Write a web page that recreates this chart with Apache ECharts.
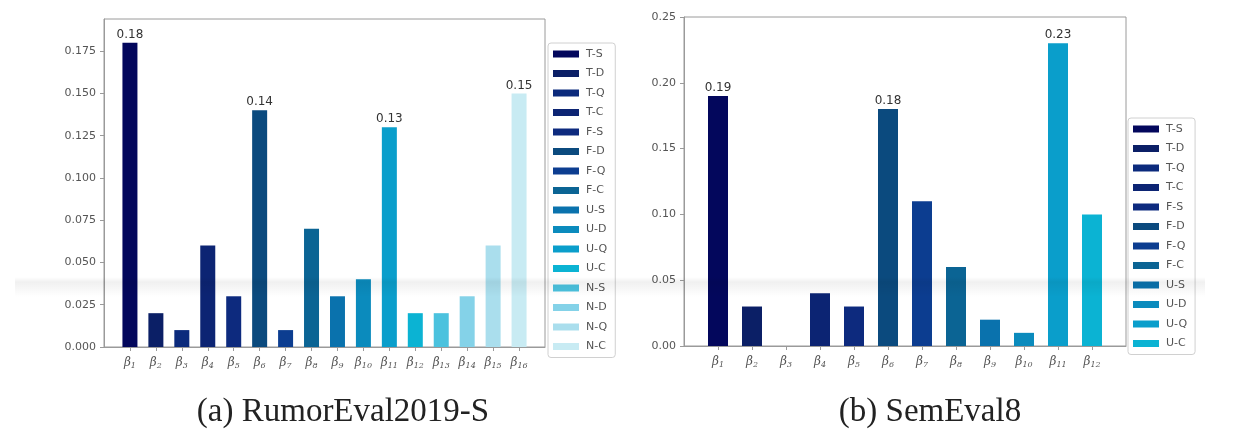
<!DOCTYPE html>
<html>
<head>
<meta charset="utf-8">
<script src="https://cdn.jsdelivr.net/npm/echarts@6/dist/echarts.min.js"></script>
<style>
html,body{margin:0;padding:0;background:#fff;}
#c{width:1236px;height:430px;}
</style>
</head>
<body>
<div id="c"></div>
<script>
// ---- data ----
const legendNames = ['T-S','T-D','T-Q','T-C','F-S','F-D','F-Q','F-C','U-S','U-D','U-Q','U-C','N-S','N-D','N-Q','N-C'];
const barColors = ['#03075c','#0b1f66','#0b2a7c','#0c2473','#0d2a7e','#0b4a7e','#0c3d90','#0b6494','#0a72ad','#0b8bbd','#0a9ecb','#0bb3d3','#4bc2de','#84d2e8','#aadeed','#c8ebf3'];
const leftCategories = ['β1','β2','β3','β4','β5','β6','β7','β8','β9','β10','β11','β12','β13','β14','β15','β16'];
const leftValues = [0.18,0.02,0.01,0.06,0.03,0.14,0.01,0.07,0.03,0.04,0.13,0.02,0.02,0.03,0.06,0.15];
const leftLabeled = ['β1','β6','β11','β16'];
const rightCategories = ['β1','β2','β3','β4','β5','β6','β7','β8','β9','β10','β11','β12'];
const rightValues = [0.19,0.03,0.0,0.04,0.03,0.18,0.11,0.06,0.02,0.01,0.23,0.10];
const rightLabeled = ['β1','β6','β11'];
const leftTicks = [0,0.025,0.05,0.075,0.1,0.125,0.15,0.175];
const rightTicks = [0,0.05,0.1,0.15,0.2,0.25];
const captions = ['(a) RumorEval2019-S','(b) SemEval8'];

// ---- build ----
const chart = echarts.init(document.getElementById('c'), null, {renderer:'canvas'});
const axisColor = '#9a9a9a';

function xAxisFor(cats, gridIndex){
  return {
    type:'category', gridIndex, boundaryGap:false,
    data:[''].concat(cats).concat(['']),
    axisLine:{show:true, onZero:false, lineStyle:{color:axisColor}},
    axisTick:{show:true, length:4, interval:(i,v)=>v!=='', lineStyle:{color:axisColor}},
    axisLabel:{interval:0, margin:9, color:'#555',
      formatter:(v)=> v===''?'':'{b|β}{s|'+v.slice(1)+'}',
      rich:{
        b:{fontFamily:'DejaVu Serif', fontStyle:'italic', fontSize:12, color:'#555'},
        s:{fontFamily:'DejaVu Serif', fontStyle:'italic', fontSize:8, color:'#555', verticalAlign:'bottom', padding:[6,0,0,0]}
      }},
    splitLine:{show:false}
  };
}
function yAxisFor(ticks, max, digits, gridIndex){
  return {
    type:'value', gridIndex, min:0, max:max, interval:ticks[1]-ticks[0],
    axisLine:{show:true, lineStyle:{color:axisColor}},
    axisTick:{show:true, length:4, lineStyle:{color:axisColor}},
    axisLabel:{showMaxLabel: max===ticks[ticks.length-1], margin:8, color:'#555', fontFamily:'DejaVu Sans', fontSize:11,
      formatter:(v)=>v.toFixed(digits)},
    splitLine:{show:false}
  };
}
const series = [];
function addSeries(cats, vals, labeled, axisIndex, barW){
  cats.forEach((c,i)=>{
    const data = new Array(cats.length+2).fill('-');
    data[i+1] = vals[i];
    series.push({
      name: legendNames[i], type:'bar', xAxisIndex:axisIndex, yAxisIndex:axisIndex,
      data, barWidth:barW, barGap:'-100%',
      itemStyle:{color:barColors[i]},
      label:{show: labeled.indexOf(c)>=0, position:'top', distance:2, color:'#333', fontFamily:'DejaVu Sans', fontSize:12,
        formatter:(p)=>Number(p.value).toFixed(2)},
      emphasis:{disabled:true}, animation:false
    });
  });
}
addSeries(leftCategories, leftValues, leftLabeled, 0, 15);
addSeries(rightCategories, rightValues, rightLabeled, 1, 20);

function legendFor(n, left, top){
  return {
    orient:'vertical', left, top, data:legendNames.slice(0,n),
    icon:'rect', itemWidth:26, itemHeight:7, itemGap:7.5,
    padding:[5,8,5,5], borderColor:'#d0d0d0', borderWidth:1, borderRadius:3,
    backgroundColor:'#fff',
    textStyle:{fontFamily:'DejaVu Sans', fontSize:11, color:'#555', lineHeight:12, padding:[0,0,0,2]},
    selectedMode:false
  };
}

chart.setOption({
  animation:false,
  backgroundColor:'#fff',
  grid:[
    {left:104, right:691, top:19, bottom:83, show:true, borderColor:axisColor, borderWidth:1, containLabel:false},
    {left:684, right:110, top:17, bottom:84, show:true, borderColor:axisColor, borderWidth:1, containLabel:false}
  ],
  xAxis:[xAxisFor(leftCategories,0), xAxisFor(rightCategories,1)],
  yAxis:[yAxisFor(leftTicks,0.194,3,0), yAxisFor(rightTicks,0.25,2,1)],
  legend:[legendFor(leftCategories.length,548,43), legendFor(rightCategories.length,1128,118)],
  title:[
    {text:captions[0], left:338, top:391, textAlign:'center', textStyle:{fontFamily:'Liberation Serif', fontWeight:'normal', fontSize:33, color:'#222'}},
    {text:captions[1], left:925, top:391, textAlign:'center', textStyle:{fontFamily:'Liberation Serif', fontWeight:'normal', fontSize:33, color:'#222'}}
  ],
  graphic:[{
    type:'rect', silent:true, z:100,
    shape:{x:15, y:277, width:1190, height:20},
    style:{fill:new echarts.graphic.LinearGradient(0,0,0,1,[
      {offset:0, color:'rgba(0,0,0,0)'},
      {offset:0.25, color:'rgba(0,0,0,0.06)'},
      {offset:1, color:'rgba(0,0,0,0)'}
    ])}
  }],
  series
});
</script>
</body>
</html>
